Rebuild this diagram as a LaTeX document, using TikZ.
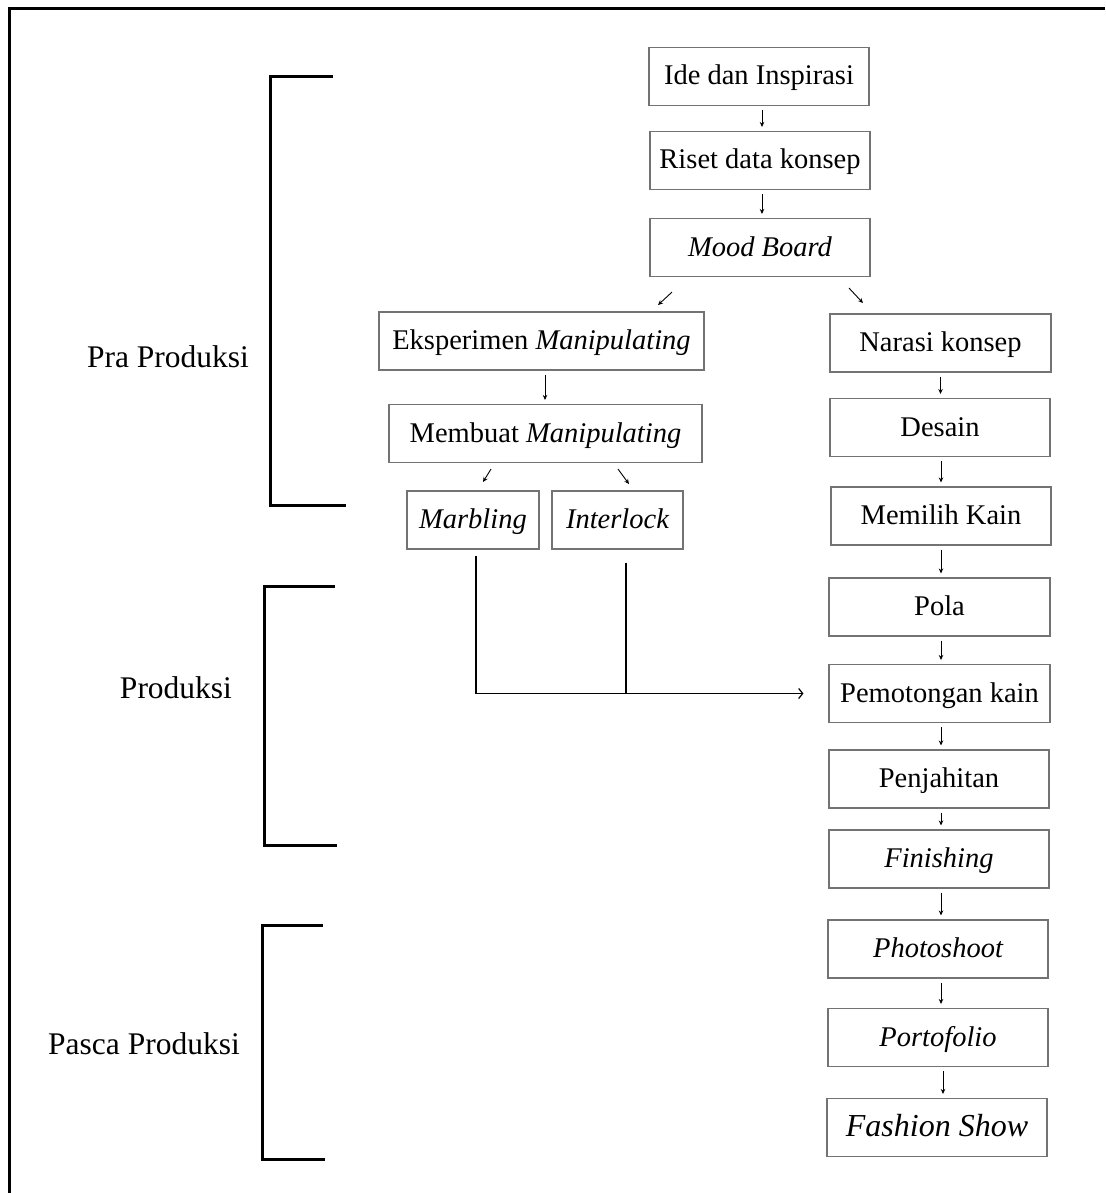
\documentclass[tikz,border=0pt]{standalone}
\usepackage{fontspec}
\setmainfont{Liberation Serif}
\usetikzlibrary{arrows.meta}
\begin{document}
\begin{tikzpicture}[x=1pt,y=-1pt,
  box/.style={draw=black!55,line width=1.1pt,minimum height=58pt,inner sep=0pt,
    font=\fontsize{28.5}{34}\selectfont,text height=21pt,text depth=4pt},
  arr/.style={line width=0.9pt,-{Stealth[length=5pt,width=4.5pt]}},
  brk/.style={line width=3pt,line join=miter},
  lbl/.style={anchor=base,inner sep=0pt,font=\fontsize{31.5}{38}\selectfont}]
\useasboundingbox (0,0) rectangle (1105,1193);
% outer frame
\draw[line width=3pt] (9,1193) -- (9,9) -- (1105,9);
% brackets
\draw[brk] (333,77) -- (270,77) -- (270,505) -- (346,505);
\draw[brk] (335,586) -- (264,586) -- (264,845) -- (337,845);
\draw[brk] (323,925) -- (262,925) -- (262,1159) -- (325,1159);
\node[lbl] (pra) at (168,367) {Pra Produksi};
\node[lbl] (prod) at (176,698) {Produksi};
\node[lbl] (pasca) at (144,1054) {Pasca Produksi};
% top column
\node[box,minimum width=220pt] (ide) at (759,76.5) {Ide dan Inspirasi};
\node[box,minimum width=220pt] (riset) at (760,160.5) {Riset data konsep};
\node[box,minimum width=220pt] (mood) at (760,247.5) {\itshape Mood Board};
% left branch
\node[box,minimum width=325pt] (eks) at (541.5,341) {Eksperimen \textit{Manipulating}};
\node[box,minimum width=313pt] (memb) at (545.5,433.5) {Membuat \textit{Manipulating}};
\node[box,minimum width=132pt] (marb) at (473,520) {\itshape Marbling};
\node[box,minimum width=131pt] (inter) at (617.5,520) {\itshape Interlock};
% right column
\node[box,minimum width=221pt] (narasi) at (940.5,343) {Narasi konsep};
\node[box,minimum width=220pt] (desain) at (940,427.5) {Desain};
\node[box,minimum width=220pt] (memilih) at (941,516) {Memilih Kain};
\node[box,minimum width=221pt] (pola) at (939.5,607) {Pola};
\node[box,minimum width=221pt] (pemot) at (939.5,693.5) {Pemotongan kain};
\node[box,minimum width=220pt] (penj) at (939,779) {Penjahitan};
\node[box,minimum width=220pt] (fin) at (939,859) {\itshape Finishing};
\node[box,minimum width=220pt] (photo) at (938,949) {\itshape Photoshoot};
\node[box,minimum width=220pt] (porto) at (938,1037.5) {\itshape Portofolio};
\node[box,minimum width=220pt,font=\fontsize{32}{38}\selectfont] (fashion) at (937,1127.5) {\itshape Fashion Show};
% vertical arrows
\begin{scope}[shorten <=4pt,shorten >=4pt]
\draw[arr] ([xshift=3pt]ide.south) -- ([xshift=2pt]riset.north);
\draw[arr] ([xshift=2pt]riset.south) -- ([xshift=2pt]mood.north);
\draw[arr] ([xshift=3.5pt]eks.south) -- ([xshift=-0.5pt]memb.north);
\draw[arr] (narasi.south) -- ([xshift=0.5pt]desain.north);
\draw[arr] ([xshift=1pt]desain.south) -- (memilih.north);
\draw[arr] (memilih.south) -- ([xshift=1.5pt]pola.north);
\draw[arr] ([xshift=1.5pt]pola.south) -- ([xshift=1.5pt]pemot.north);
\draw[arr] ([xshift=1.5pt]pemot.south) -- ([xshift=2pt]penj.north);
\draw[arr] ([xshift=2pt]penj.south) -- ([xshift=2pt]fin.north);
\draw[arr] ([xshift=2pt]fin.south) -- ([xshift=3pt]photo.north);
\draw[arr] ([xshift=3pt]photo.south) -- ([xshift=3pt]porto.north);
\draw[arr] ([xshift=5pt]porto.south) -- ([xshift=6pt]fashion.north);
\end{scope}
% diagonal arrows
\draw[arr] ([xshift=-88pt,yshift=-15pt]mood.south) -- ++(-14,13);
\draw[arr] ([xshift=89pt,yshift=-11pt]mood.south) -- ++(14,15);
\draw[arr] ([xshift=-54.5pt,yshift=-6pt]memb.south) -- ++(-8,13);
\draw[arr] ([xshift=72.5pt,yshift=-6pt]memb.south) -- ++(11,15);
% merge line
\coordinate (mtip) at ([xshift=-25pt]pemot.west);
\draw[line width=1.2pt,-{Straight Barb[length=4pt,width=10pt]}] ([xshift=3pt,yshift=-6pt]marb.south) |- (mtip);
\draw[line width=1.2pt] ([xshift=8.5pt,yshift=-13pt]inter.south) -- ([xshift=8.5pt]inter.south |- mtip);
\end{tikzpicture}
\end{document}
